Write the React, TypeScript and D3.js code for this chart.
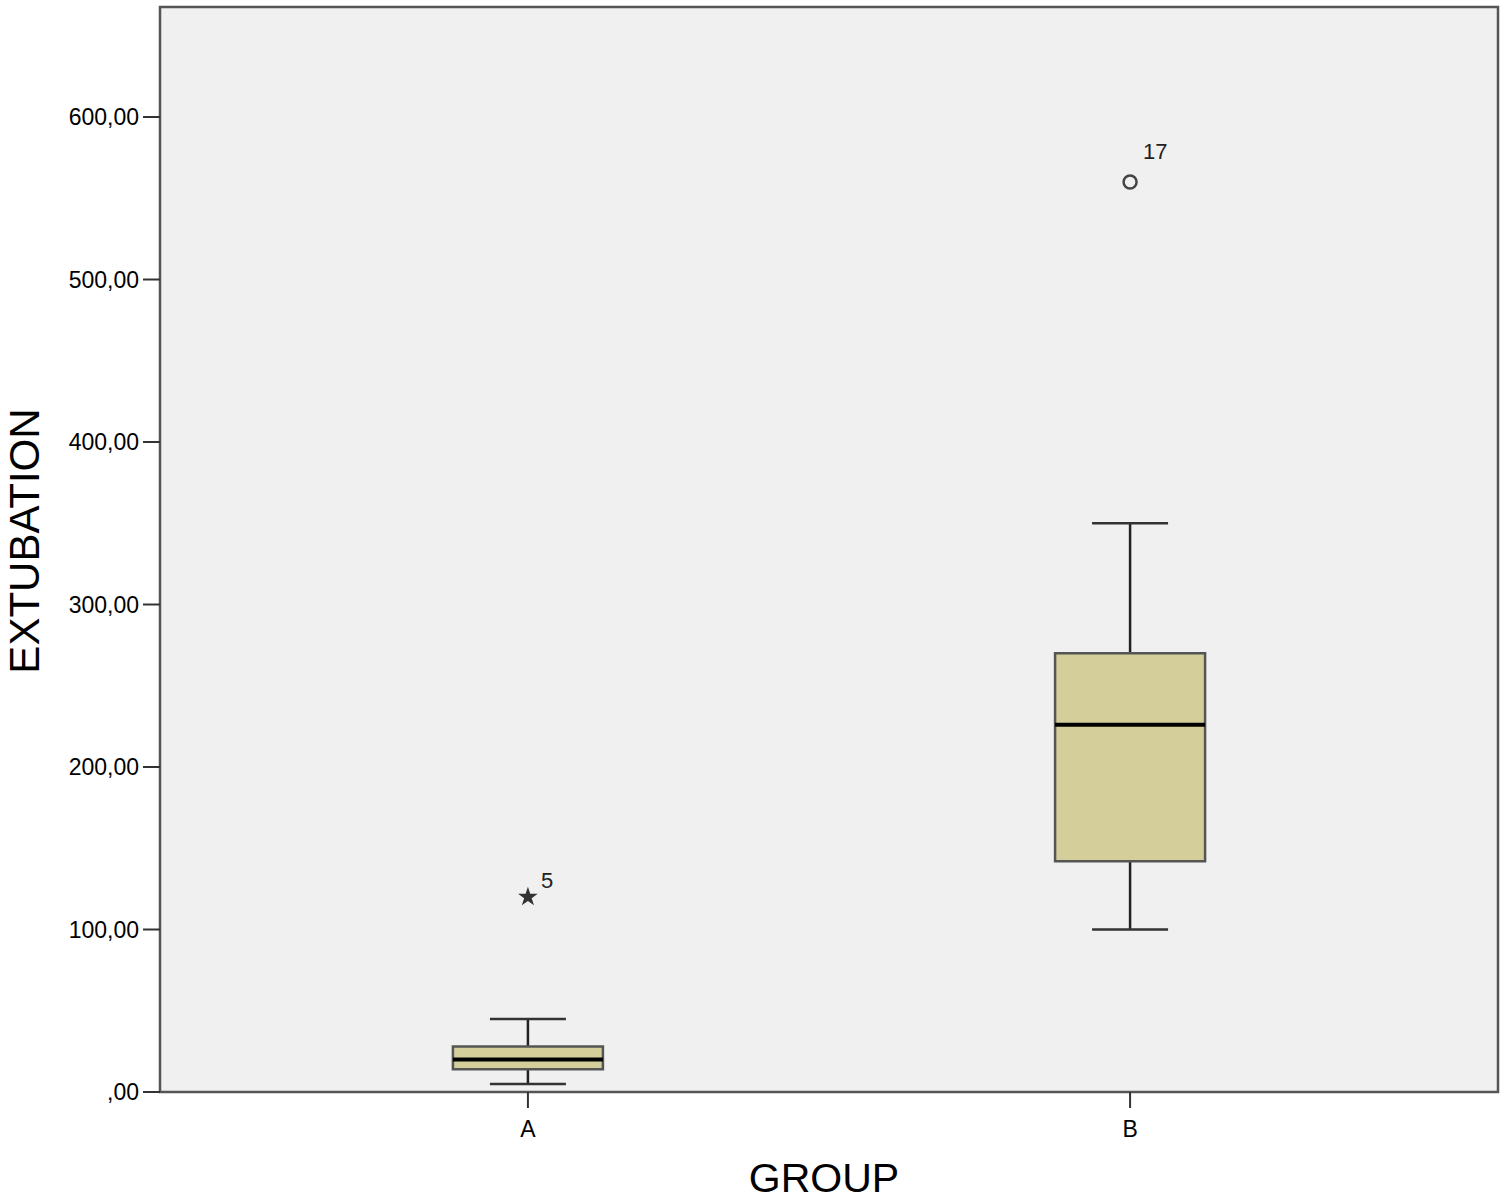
import React from "react";
import * as d3 from "d3";

const groups = ["A", "B"];
const q1 = [14, 142];
const medians = [20, 226];
const q3 = [28, 270];
const whiskerLow = [5, 100];
const whiskerHigh = [45, 350];
const outlierGroup = ["A", "B"];
const outlierValue = [120, 560];
const outlierLabel = ["5", "17"];
const outlierKind = ["star", "circle"];
const yTicks = [0, 100, 200, 300, 400, 500, 600];

const W = 1508;
const H = 1203;
const left = 160;
const right = 1498;
const top = 7;
const bottom = 1092;

export default function App() {
  const y = d3.scaleLinear().domain([0, 667.7]).range([bottom, top]);
  const x = d3.scalePoint<string>().domain(groups).range([left, right]).padding(0.611);
  const boxW = 150;
  const capW = 76;
  const fmt = (v: number) => (v === 0 ? ",00" : `${v},00`);
  const star = d3.symbol().type(d3.symbolStar).size(120)();
  const font = "'Liberation Sans', Arial, sans-serif";

  return (
    <svg width={W} height={H} style={{ position: "absolute", left: 0, top: 0, background: "#fff" }}>
      <rect x={left} y={top} width={right - left} height={bottom - top} fill="#f0f0f0" />
      {groups.map((g, i) => {
        const cx = x(g)!;
        return (
          <g key={g}>
            <line x1={cx} x2={cx} y1={y(whiskerHigh[i])} y2={y(q3[i])} stroke="#222" strokeWidth={2.5} />
            <line x1={cx} x2={cx} y1={y(q1[i])} y2={y(whiskerLow[i])} stroke="#222" strokeWidth={2.5} />
            <line x1={cx - capW / 2} x2={cx + capW / 2} y1={y(whiskerHigh[i])} y2={y(whiskerHigh[i])} stroke="#333" strokeWidth={2.5} />
            <line x1={cx - capW / 2} x2={cx + capW / 2} y1={y(whiskerLow[i])} y2={y(whiskerLow[i])} stroke="#333" strokeWidth={2.5} />
            <rect x={cx - boxW / 2} y={y(q3[i])} width={boxW} height={y(q1[i]) - y(q3[i])} fill="#d3ce9a" stroke="#555" strokeWidth={2.5} />
            <line x1={cx - boxW / 2} x2={cx + boxW / 2} y1={y(medians[i])} y2={y(medians[i])} stroke="#000" strokeWidth={4} />
          </g>
        );
      })}
      {outlierGroup.map((g, i) => {
        const cx = x(g)!;
        const cy = y(outlierValue[i]);
        const isStar = outlierKind[i] === "star";
        return (
          <g key={"o" + i}>
            {isStar ? (
              <path d={star!} transform={`translate(${cx},${cy})`} fill="#333" />
            ) : (
              <circle cx={cx} cy={cy} r={6.5} fill="none" stroke="#444" strokeWidth={2.5} />
            )}
            <text x={cx + 13} y={cy + (isStar ? -9 : -23)} fontFamily={font} fontSize={22} fill="#222">{outlierLabel[i]}</text>
          </g>
        );
      })}
      <rect x={left} y={top} width={right - left} height={bottom - top} fill="none" stroke="#555" strokeWidth={2.5} />
      {yTicks.map((t) => (
        <g key={t}>
          <line x1={left - 17} x2={left} y1={y(t)} y2={y(t)} stroke="#333" strokeWidth={2} />
          <text x={left - 21} y={y(t)} dy="0.36em" textAnchor="end" fontFamily={font} fontSize={23} fill="#000">{fmt(t)}</text>
        </g>
      ))}
      {groups.map((g) => (
        <g key={"t" + g}>
          <line x1={x(g)!} x2={x(g)!} y1={bottom} y2={bottom + 16} stroke="#333" strokeWidth={2} />
          <text x={x(g)!} y={1137} textAnchor="middle" fontFamily={font} fontSize={23} fill="#000">{g}</text>
        </g>
      ))}
      <text x={824} y={1192} textAnchor="middle" fontFamily={font} fontSize={41} fill="#000">GROUP</text>
      <text transform={`translate(39,541) rotate(-90)`} textAnchor="middle" fontFamily={font} fontSize={42} fill="#000">EXTUBATION</text>
    </svg>
  );
}
